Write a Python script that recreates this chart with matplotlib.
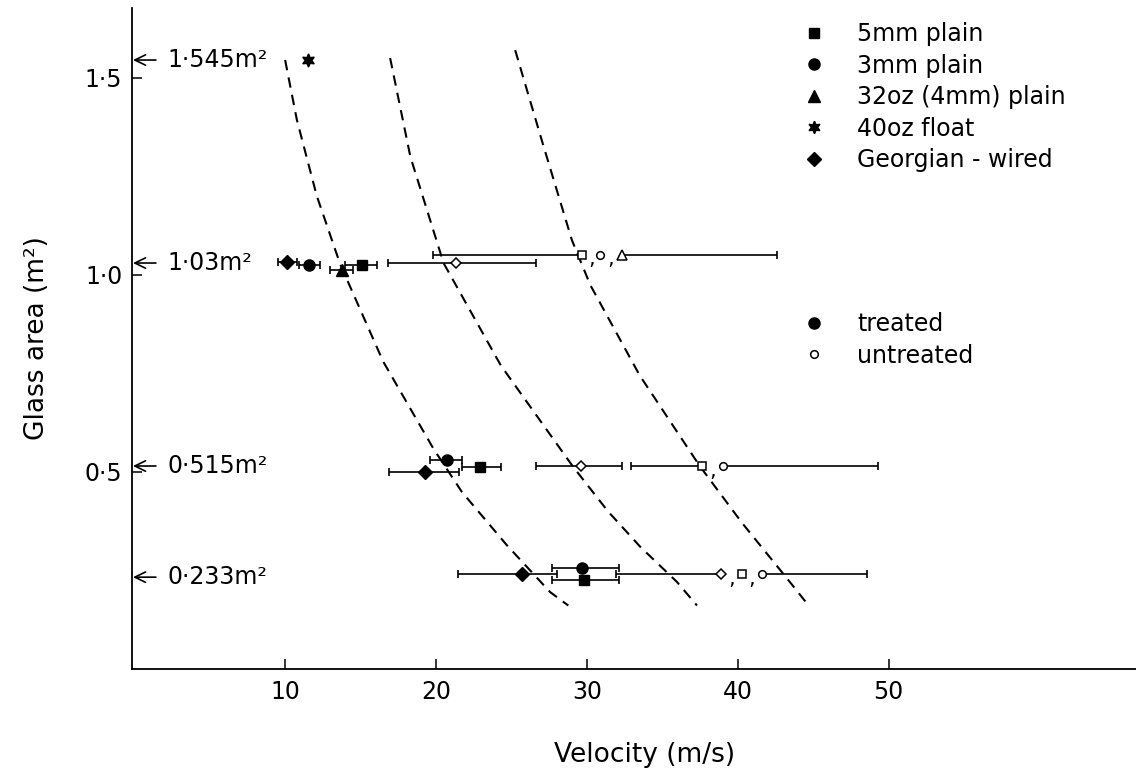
import matplotlib
matplotlib.use('Agg')
import matplotlib.pyplot as plt
from matplotlib.lines import Line2D

plt.rcParams['font.family'] = ['DejaVu Sans']

# glass areas tested, as marked on the left
areas = [1.545, 1.03, 0.515, 0.233]
area_labels = ['1·545m²', '1·03m²', '0·515m²', '0·233m²']

# treated glass (filled markers)
sq5_x = [15.1, 22.9, 29.8]
sq5_y = [1.025, 0.513, 0.225]
ci3_x = [11.6, 20.7, 29.7]
ci3_y = [1.025, 0.530, 0.256]
tr32_x = [13.8]
tr32_y = [1.012]
fl40_x = [11.5]
fl40_y = [1.545]
geo_x = [10.1, 19.3, 25.7]
geo_y = [1.033, 0.500, 0.240]

# untreated glass (open markers)
sq5u_x = [29.7, 37.6, 40.3]
sq5u_y = [1.050, 0.514, 0.240]
ci3u_x = [30.9, 39.05, 41.6]
ci3u_y = [1.050, 0.514, 0.240]
tr32u_x = [32.3]
tr32u_y = [1.050]
geou_x = [21.3, 29.6, 38.9]
geou_y = [1.030, 0.514, 0.240]

# velocity ranges (error bars)
bar_lo = [9.5, 10.9, 13.0, 14.0, 16.8, 19.8, 16.9, 19.6, 21.7, 26.6, 32.9, 21.45, 27.7, 27.7, 31.9]
bar_hi = [10.8, 12.3, 14.5, 16.1, 26.6, 42.6, 21.5, 21.7, 24.3, 32.3, 49.3, 28.0, 32.1, 32.1, 48.6]
bar_y = [1.033, 1.025, 1.012, 1.025, 1.030, 1.050, 0.500, 0.530, 0.513, 0.514, 0.514, 0.240, 0.256, 0.225, 0.240]

# dashed boundary curves
c1_x = [10.0, 10.78, 12.1, 13.65, 16.5, 19.83, 21.72, 24.70, 27.57, 28.77]
c1_y = [1.545, 1.393, 1.20, 1.027, 0.78, 0.559, 0.449, 0.314, 0.195, 0.161]
c2_x = [16.96, 18.3, 20.5, 24.3, 29.07, 31.4, 33.54, 35.97, 37.3]
c2_y = [1.550, 1.30, 1.03, 0.77, 0.514, 0.40, 0.310, 0.221, 0.161]
c3_x = [25.25, 27.1, 29.01, 30.23, 33.5, 37.5, 40.3, 43.2, 44.7]
c3_y = [1.570, 1.33, 1.088, 0.974, 0.745, 0.514, 0.37, 0.233, 0.161]

xticks = [10, 20, 30, 40, 50]
yticks = [0.5, 1.0, 1.5]
ytick_labels = ['0·5', '1·0', '1·5']

fig = plt.figure(figsize=(11.36, 7.8), dpi=100)
ax = fig.add_axes([132 / 1136, 111 / 780, 1004 / 1136, 661 / 780])
ax.set_xlim(-0.15, 66.4)
ax.set_ylim(0, 1.677)

for cx, cy in [(c1_x, c1_y), (c2_x, c2_y), (c3_x, c3_y)]:
    ax.plot(cx, cy, color='black', lw=1.5, dashes=(5, 3.5), zorder=1)

mid = [(a + b) / 2 for a, b in zip(bar_lo, bar_hi)]
half = [(b - a) / 2 for a, b in zip(bar_lo, bar_hi)]
ax.errorbar(mid, bar_y, xerr=half, fmt='none', ecolor='black', elinewidth=1.2,
            capsize=2.8, capthick=1.2, zorder=2)

# untreated groups written as "p,o,Δ" - blank the bar between them
groups = [([sq5u_x[0], ci3u_x[0], tr32u_x[0]], sq5u_y[0]),
          ([sq5u_x[1], ci3u_x[1]], sq5u_y[1]),
          ([geou_x[2], sq5u_x[2], ci3u_x[2]], sq5u_y[2])]
for gx, gy in groups:
    ax.plot([gx[0], gx[-1]], [gy, gy], color='white', lw=4, zorder=2.5)
    for a, b in zip(gx[:-1], gx[1:]):
        ax.annotate(',', xy=((a + b) / 2, gy), xytext=(0, -3), textcoords='offset points',
                    ha='center', va='center', fontsize=15, zorder=3)

ms = 7.5
ax.plot(sq5_x, sq5_y, 's', color='black', ms=ms, ls='none', zorder=4)
ax.plot(ci3_x, ci3_y, 'o', color='black', ms=ms + 0.5, ls='none', zorder=4)
ax.plot(tr32_x, tr32_y, '^', color='black', ms=ms + 1, ls='none', zorder=4)
ax.plot(fl40_x, fl40_y, marker=(6, 1, 0), color='black', ms=ms + 2, ls='none', zorder=4)
ax.plot(geo_x, geo_y, 'D', color='black', ms=ms - 0.5, ls='none', zorder=4)

oms = 5.5
kw = dict(mfc='white', mec='black', mew=1.1, ls='none', zorder=4)
ax.plot(sq5u_x, sq5u_y, 's', ms=oms, **kw)
ax.plot(ci3u_x, ci3u_y, 'o', ms=oms, **kw)
ax.plot(tr32u_x, tr32u_y, '^', ms=oms + 1.5, **kw)
ax.plot(geou_x, geou_y, 'D', ms=oms - 0.5, **kw)

# area markers on the y axis
for a, lab in zip(areas, area_labels):
    ax.annotate(lab, xy=(0.001, a), xycoords=('axes fraction', 'data'),
                xytext=(24.5, 0), textcoords='offset points', ha='left', va='center',
                fontsize=17,
                arrowprops=dict(arrowstyle='->,head_length=0.45,head_width=0.22',
                                color='black', lw=1.2, shrinkA=6, shrinkB=0))

ax.spines['top'].set_visible(False)
ax.spines['right'].set_visible(False)
ax.spines['left'].set_linewidth(1.3)
ax.spines['bottom'].set_linewidth(1.3)

ax.set_xticks(xticks)
ax.set_xticklabels([str(t) for t in xticks])
ax.set_yticks(yticks)
ax.set_yticklabels(ytick_labels)
ax.tick_params(direction='in', length=7, width=1.1, labelsize=17)
ax.tick_params(axis='x', pad=8)
ax.tick_params(axis='y', pad=7)

ax.set_xlabel('Velocity (m/s)', fontsize=19)
ax.xaxis.set_label_coords(0.511, -0.110)
ax.set_ylabel('Glass area (m²)', fontsize=19)
ax.yaxis.set_label_coords(-0.082, 0.5)

handles1 = [
    Line2D([], [], marker='s', color='black', ls='none', ms=7.5),
    Line2D([], [], marker='o', color='black', ls='none', ms=8),
    Line2D([], [], marker='^', color='black', ls='none', ms=8),
    Line2D([], [], marker=(6, 1, 0), color='black', ls='none', ms=9),
    Line2D([], [], marker='D', color='black', ls='none', ms=7),
]
labels1 = ['5mm plain', '3mm plain', '32oz (4mm) plain', '40oz float', 'Georgian - wired']
leg1 = fig.legend(handles1, labels1, loc='upper left',
                  bbox_to_anchor=(802 / 1136, 1 - 22 / 780), frameon=False,
                  fontsize=17, handlelength=1.0, handletextpad=1.35,
                  labelspacing=0.32, borderpad=0, borderaxespad=0)

handles2 = [
    Line2D([], [], marker='o', color='black', ls='none', ms=8),
    Line2D([], [], marker='o', mfc='white', mec='black', mew=1.1, ls='none', ms=5.5),
]
leg2 = fig.legend(handles2, ['treated', 'untreated'], loc='upper left',
                  bbox_to_anchor=(802 / 1136, 1 - 312 / 780), frameon=False,
                  fontsize=17, handlelength=1.0, handletextpad=1.35,
                  labelspacing=0.32, borderpad=0, borderaxespad=0)

fig.savefig('out.png', dpi=100)
